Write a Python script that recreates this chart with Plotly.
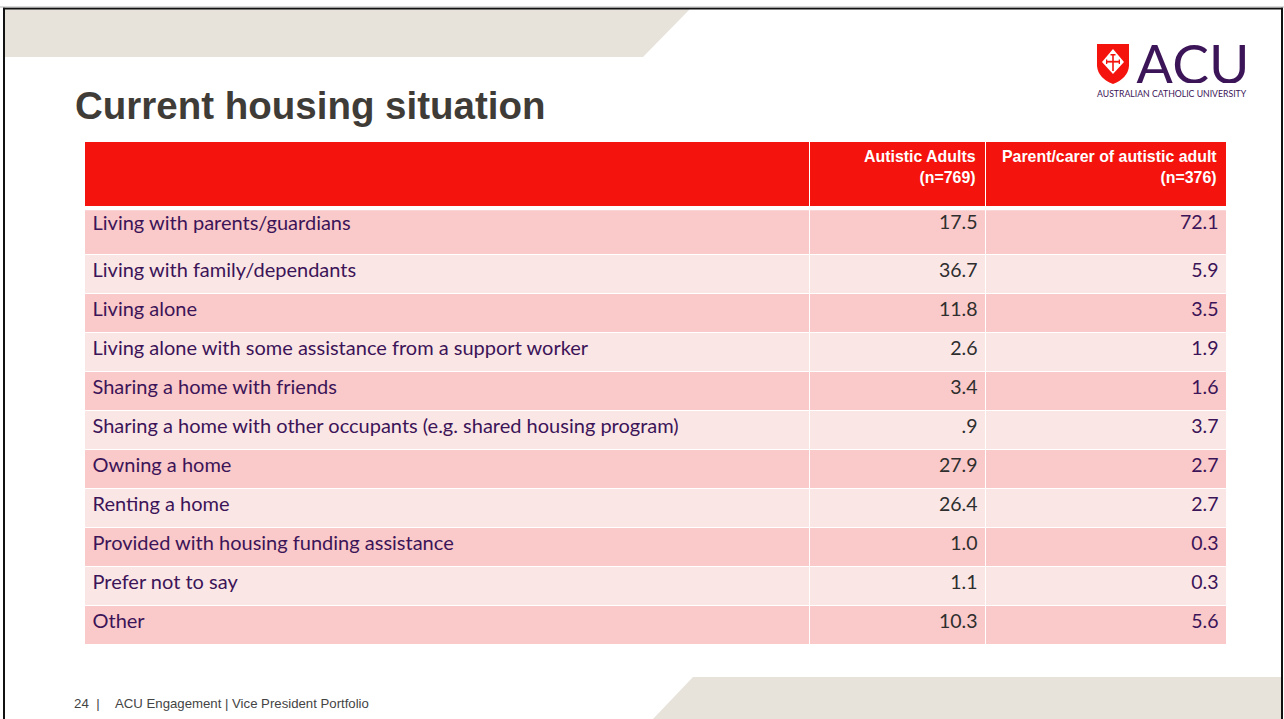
import plotly.graph_objects as go

W, H = 1284, 719

categories = [
    "Living with parents/guardians",
    "Living with family/dependants",
    "Living alone",
    "Living alone with some assistance from a support worker",
    "Sharing a home with friends",
    "Sharing a home with other occupants (e.g. shared housing program)",
    "Owning a home",
    "Renting a home",
    "Provided with housing funding assistance",
    "Prefer not to say",
    "Other",
]
autistic_adults = ["17.5", "36.7", "11.8", "2.6", "3.4", ".9", "27.9", "26.4", "1.0", "1.1", "10.3"]
parent_carer = ["72.1", "5.9", "3.5", "1.9", "1.6", "3.7", "2.7", "2.7", "0.3", "0.3", "5.6"]
header_labels = ["<b>Autistic Adults</b><br><b>(n=769)</b>", "<b>Parent/carer of autistic adult</b><br><b>(n=376)</b>"]

RED = "#f4130d"
DARK_ROW = "#fac9c9"
LIGHT_ROW = "#fbe6e6"
PURPLE = "#3c1458"
VALUE_GREY = "#2e2e2e"
BEIGE = "#e7e3db"
CELL_FONT = "Lato"
CELL_SIZES = [20, 19.5, 19.5]
COLW = [725, 176, 241]
TX0, TX1 = 84.5 / W, 1226.5 / W
ALIGN = ["left", "right", "right"]
WHITE_LINE = dict(color="white", width=1.5)


def fy(y):
    return 1 - y / H


def fx(x):
    return x / W


def path(points, close=True):
    s = "M " + " L ".join(f"{fx(x):.5f},{fy(y):.5f}" for x, y in points)
    return s + (" Z" if close else "")


def poly(points, color, layer="below"):
    return dict(type="path", xref="paper", yref="paper", path=path(points), fillcolor=color,
                line=dict(width=0), layer=layer)


def rect(x0, y0, x1, y1, color, layer="below"):
    return poly([(x0, y0), (x1, y0), (x1, y1), (x0, y1)], color, layer)


fig = go.Figure()

# Red heading band
fig.add_trace(go.Table(
    domain=dict(x=[TX0, TX1], y=[fy(209), fy(141.3)]),
    columnwidth=COLW,
    header=dict(values=["", "", ""], height=67, align=ALIGN,
                fill=dict(color=RED), line=WHITE_LINE,
                font=dict(family="Liberation Sans", size=14.5, color="white")),
    cells=dict(values=[[], [], []], height=1),
))

# Body: first (taller) row is the trace's top row, the other ten are its cells
rest = list(range(1, len(categories)))
fills = [DARK_ROW if i % 2 == 0 else LIGHT_ROW for i in rest]
fig.add_trace(go.Table(
    domain=dict(x=[TX0, TX1], y=[fy(646), fy(206.8)]),
    columnwidth=COLW,
    header=dict(
        values=[categories[0], autistic_adults[0], parent_carer[0]],
        height=47.6, align=ALIGN,
        fill=dict(color=DARK_ROW), line=WHITE_LINE,
        font=dict(family=CELL_FONT, size=CELL_SIZES, color=[PURPLE, VALUE_GREY, PURPLE]),
    ),
    cells=dict(
        values=[[categories[i] for i in rest], [autistic_adults[i] for i in rest], [parent_carer[i] for i in rest]],
        align=ALIGN,
        height=39,
        fill=dict(color=[fills, fills, fills]),
        line=WHITE_LINE,
        font=dict(family=CELL_FONT, size=CELL_SIZES, color=[PURPLE, VALUE_GREY, PURPLE]),
    ),
))

sx, sy = fx, fy
shield = (f"M {sx(1097):.5f},{sy(44):.5f} L {sx(1129):.5f},{sy(44):.5f} L {sx(1129):.5f},{sy(66):.5f} "
          f"Q {sx(1128):.5f},{sy(78):.5f} {sx(1113):.5f},{sy(84):.5f} "
          f"Q {sx(1098):.5f},{sy(78):.5f} {sx(1097):.5f},{sy(66):.5f} Z")

shapes = [
    poly([(5, 9), (690, 9), (643, 57), (5, 57)], BEIGE),
    poly([(653, 719), (693, 677), (1281, 677), (1281, 719)], BEIGE),
    rect(3, 7.5, 1283, 9.5, "#111111"),
    rect(3, 7.5, 5, 719, "#111111"),
    rect(1281, 7.5, 1283, 719, "#111111"),
    rect(0, 6.5, 1284, 7.5, "#b5b5b5"),
    rect(84, 207, 1227, 210.2, "white", "above"),
    dict(type="path", xref="paper", yref="paper", path=shield, fillcolor=RED, line=dict(width=0), layer="below"),
    poly([(1113, 49), (1124, 62), (1113, 74), (1102, 62)], "white"),
    rect(1112.2, 54, 1113.8, 71, RED),
    rect(1106, 60.8, 1120, 62.6, RED),
    rect(1110.5, 54, 1115.5, 55.5, RED),
    rect(1106, 59.5, 1107.3, 64, RED),
    rect(1118.7, 59.5, 1120, 64, RED),
]


def note(text, x, y, size, color, family="Liberation Sans", anchor="left", yanchor="middle", **kw):
    return dict(text=text, x=fx(x), y=fy(y), xref="paper", yref="paper", xanchor=anchor, yanchor=yanchor,
                showarrow=False, align=anchor, font=dict(family=family, size=size, color=color),
                borderpad=0, **kw)


annotations = [
    note("<b>Current housing situation</b>", 73.5, 105.5, 38.5, "#3f3c38"),
    note("24  |", 73, 703.5, 13.3, "#444444"),
    note("ACU Engagement | Vice President Portfolio", 114, 703.5, 13.2, "#444444"),
    note("ACU", 1135, 63, 55, PURPLE, family="Lato", height=40, valign="middle"),
    note("AUSTRALIAN CATHOLIC UNIVERSITY", 1095.5, 93.5, 8.7, PURPLE, family="Lato"),
    note(header_labels[0], 976.5, 167.3, 15.9, "white", anchor="right"),
    note(header_labels[1], 1217.5, 167.3, 15.9, "white", anchor="right"),
]

fig.update_layout(
    width=W, height=H, autosize=False,
    margin=dict(l=0, r=0, t=0, b=0, pad=0),
    paper_bgcolor="white",
    showlegend=False,
    shapes=shapes,
    annotations=annotations,
)

fig.write_html(
    "out.html",
    config=dict(displayModeBar=False),
    post_script="document.body.style.margin='0';document.body.style.overflow='hidden';",
)
